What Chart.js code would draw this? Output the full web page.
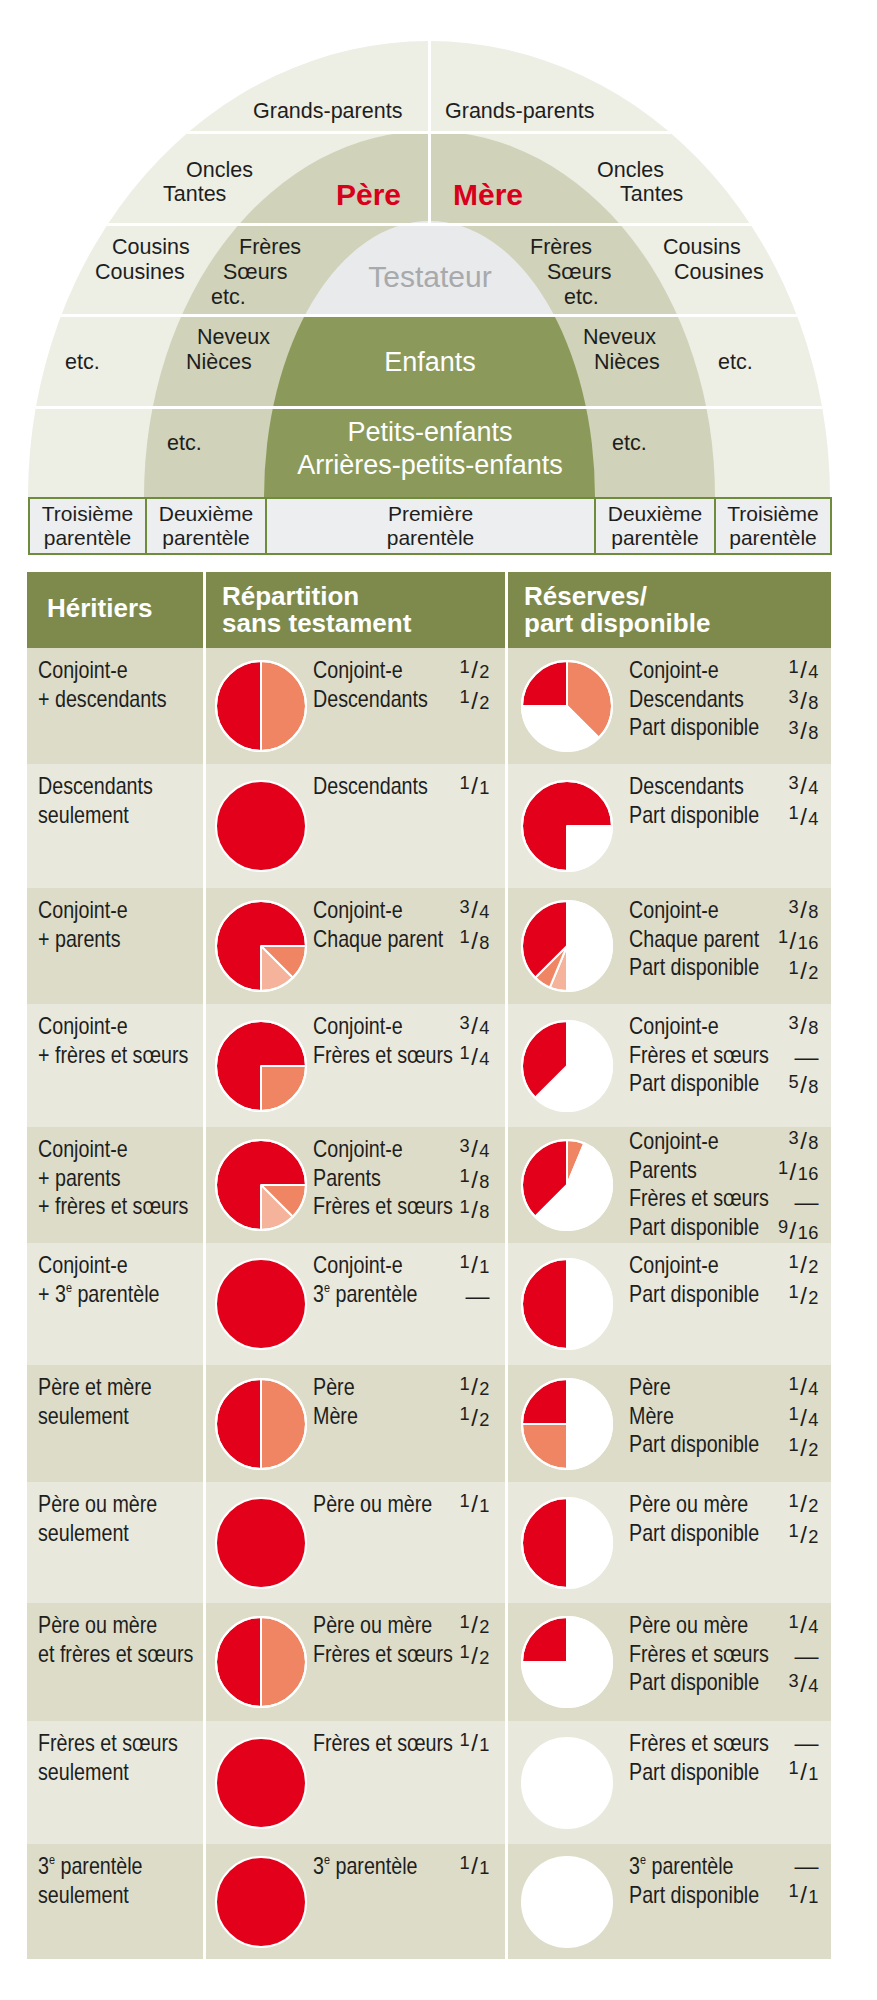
<!DOCTYPE html>
<html lang="fr">
<head>
<meta charset="UTF-8">
<title>Parentèles et réserves</title>
<script src="https://cdn.jsdelivr.net/npm/chart.js"></script>
<style>
    body {
        margin: 0;
        background: #ffffff;
    }
    #page {
        position: relative;
        width: 877px;
        height: 2000px;
        overflow: hidden;
        font-family: "Liberation Sans", Arial, sans-serif;
        color: #1e1e1e;
    }
    .abs { position: absolute; }
    .arch {
        position: absolute;
        border-radius: 50% 50% 0 0 / 100% 100% 0 0;
        overflow: hidden;
    }
    .wline { position: absolute; background: #ffffff; }
    .t {
        position: absolute;
        white-space: nowrap;
        font-size: 21.5px;
        line-height: 26px;
    }
    .c { text-align: center; width: 400px; }
    .box {
        position: absolute;
        box-sizing: border-box;
        border: 2px solid #6f8c3c;
        background: #eceeef;
        text-align: center;
        font-size: 21px;
        line-height: 24px;
        padding-top: 3px;
    }
    .hdr {
        position: absolute;
        color: #ffffff;
        font-weight: bold;
        font-size: 26px;
        line-height: 27px;
        white-space: nowrap;
    }
    /* no narrow face installed: squeeze the regular one */
    .cell {
        position: absolute;
        white-space: nowrap;
        font-size: 24px;
        line-height: 28.5px;
        transform: scaleX(0.82);
        transform-origin: left top;
    }
    .fr {
        position: absolute;
        white-space: nowrap;
        font-size: 24px;
        line-height: 28.5px;
        text-align: right;
        letter-spacing: 0.5px;
    }
    .num { font-size: 0.76em; position: relative; top: -0.3em; }
    .den { font-size: 0.76em; }
    .sl { font-weight: 300; margin: 0 1px; }
    sup { font-size: 0.55em; vertical-align: 0.75em; line-height: 0; }
    canvas { position: absolute; }
</style>
</head>
<body>
<div id="page"></div>
<script>
    // ----- data -----
    const heirs = [
        ['Conjoint-e', '+ descendants'],
        ['Descendants', 'seulement'],
        ['Conjoint-e', '+ parents'],
        ['Conjoint-e', '+ frères et sœurs'],
        ['Conjoint-e', '+ parents', '+ frères et sœurs'],
        ['Conjoint-e', '+ 3e parentèle'],
        ['Père et mère', 'seulement'],
        ['Père ou mère', 'seulement'],
        ['Père ou mère', 'et frères et sœurs'],
        ['Frères et sœurs', 'seulement'],
        ['3e parentèle', 'seulement']
    ];
    const intestateNames = [
        ['Conjoint-e', 'Descendants'],
        ['Descendants'],
        ['Conjoint-e', 'Chaque parent'],
        ['Conjoint-e', 'Frères et sœurs'],
        ['Conjoint-e', 'Parents', 'Frères et sœurs'],
        ['Conjoint-e', '3e parentèle'],
        ['Père', 'Mère'],
        ['Père ou mère'],
        ['Père ou mère', 'Frères et sœurs'],
        ['Frères et sœurs'],
        ['3e parentèle']
    ];
    const intestateFractions = [
        ['1/2', '1/2'], ['1/1'], ['3/4', '1/8'], ['3/4', '1/4'], ['3/4', '1/8', '1/8'],
        ['1/1', '—'], ['1/2', '1/2'], ['1/1'], ['1/2', '1/2'], ['1/1'], ['1/1']
    ];
    // pie slices (each parent gets its own slice)
    const intestateSlices = [
        [0.5, 0.5], [1], [0.75, 0.125, 0.125], [0.75, 0.25], [0.75, 0.125, 0.125],
        [1], [0.5, 0.5], [1], [0.5, 0.5], [1], [1]
    ];
    const reserveNames = [
        ['Conjoint-e', 'Descendants', 'Part disponible'],
        ['Descendants', 'Part disponible'],
        ['Conjoint-e', 'Chaque parent', 'Part disponible'],
        ['Conjoint-e', 'Frères et sœurs', 'Part disponible'],
        ['Conjoint-e', 'Parents', 'Frères et sœurs', 'Part disponible'],
        ['Conjoint-e', 'Part disponible'],
        ['Père', 'Mère', 'Part disponible'],
        ['Père ou mère', 'Part disponible'],
        ['Père ou mère', 'Frères et sœurs', 'Part disponible'],
        ['Frères et sœurs', 'Part disponible'],
        ['3e parentèle', 'Part disponible']
    ];
    const reserveFractions = [
        ['1/4', '3/8', '3/8'], ['3/4', '1/4'], ['3/8', '1/16', '1/2'], ['3/8', '—', '5/8'],
        ['3/8', '1/16', '—', '9/16'], ['1/2', '1/2'], ['1/4', '1/4', '1/2'], ['1/2', '1/2'],
        ['1/4', '—', '3/4'], ['—', '1/1'], ['—', '1/1']
    ];
    // last slice = part disponible (white)
    const reserveSlices = [
        [0.25, 0.375, 0.375], [0.75, 0.25], [0.375, 0.0625, 0.0625, 0.5], [0.375, 0.625],
        [0.375, 0.0625, 0.5625], [0.5, 0.5], [0.25, 0.25, 0.5], [0.5, 0.5], [0.25, 0.75], [1], [1]
    ];
    const headers = [['Héritiers'], ['Répartition', 'sans testament'], ['Réserves/', 'part disponible']];
    const parenteles = [['Troisième', 'parentèle'], ['Deuxième', 'parentèle'], ['Première', 'parentèle'],
        ['Deuxième', 'parentèle'], ['Troisième', 'parentèle']];

    // ----- layout -----
    const RED = '#e2001a', SALMON = '#ef8562', LIGHT = '#f5b39b', WHITE = '#ffffff';
    const rowTops = [648, 764, 888, 1004, 1127, 1243, 1365, 1482, 1603, 1721, 1844, 1959];
    const intestateStart = [180, 180, 180, 180, 180, 180, 180, 180, 180, 180, 180];
    const reserveStart = [270, 180, 0, 0, 225, 180, 0, 180, 270, 0, 0];
    const reserveCcw = [false, false, true, true, false, false, true, false, false, false, false];
    const boxEdges = [28, 145, 265, 594, 714, 830];

    const page = document.getElementById('page');
    function add(tag, cls, css, html) {
        const el = document.createElement(tag);
        if (cls) el.className = cls;
        Object.assign(el.style, css);
        if (html !== undefined) el.innerHTML = html;
        page.appendChild(el);
        return el;
    }
    const px = v => v + 'px';
    const fmt = s => s.replace(/\b3e\b/g, '3<sup>e</sup>');
    function frac(s) {
        if (!s.includes('/')) return s;
        const [n, d] = s.split('/');
        return '<span class="num">' + n + '</span><span class="sl">/</span><span class="den">' + d + '</span>';
    }

    // ----- arch -----
    const outer = add('div', 'arch', {left: '28px', top: '41px', width: '802px', height: '456px', background: '#edeee4'});
    function inOuter(cls, css) {
        const el = document.createElement('div');
        el.className = cls;
        Object.assign(el.style, css);
        outer.appendChild(el);
    }
    inOuter('arch', {left: '116px', top: '90px', width: '571px', height: '366px', background: '#d0d2b9'});
    inOuter('arch', {left: '236px', top: '180px', width: '331px', height: '276px',
        background: 'linear-gradient(#e9eaeb 0, #e9eaeb 94px, #8b9a5a 94px)'});
    [132, 224, 315, 407].forEach(y => inOuter('wline', {left: 0, top: px(y - 41 - 1.5), width: '100%', height: '3px'}));
    inOuter('wline', {left: px(429 - 28 - 1.5), top: 0, width: '3px', height: px(224 - 41)});

    const archText = [
        ['Grands-parents', 253, 111], ['Grands-parents', 445, 111],
        ['Oncles', 186, 170], ['Tantes', 163, 194], ['Oncles', 597, 170], ['Tantes', 620, 194],
        ['Cousins', 112, 247], ['Cousines', 95, 272], ['Cousins', 663, 247], ['Cousines', 674, 272],
        ['Frères', 239, 247], ['Sœurs', 223, 272], ['etc.', 211, 297],
        ['Frères', 530, 247], ['Sœurs', 547, 272], ['etc.', 564, 297],
        ['etc.', 65, 362], ['etc.', 718, 362],
        ['Neveux', 197, 337], ['Nièces', 186, 362], ['Neveux', 583, 337], ['Nièces', 594, 362],
        ['etc.', 167, 443], ['etc.', 612, 443]
    ];
    archText.forEach(([s, x, y]) => add('div', 't', {left: px(x), top: px(y - 13)}, s));
    add('div', 't', {left: '336px', top: px(195 - 18), fontSize: '30px', lineHeight: '36px', fontWeight: 'bold', color: '#d9001b'}, 'Père');
    add('div', 't', {left: '453px', top: px(195 - 18), fontSize: '30px', lineHeight: '36px', fontWeight: 'bold', color: '#d9001b'}, 'Mère');
    add('div', 't c', {left: px(430 - 200), top: px(277 - 18), fontSize: '30px', lineHeight: '36px', color: '#a7a9ac'}, 'Testateur');
    add('div', 't c', {left: px(430 - 200), top: px(362 - 17), fontSize: '27px', lineHeight: '34px', color: '#ffffff'}, 'Enfants');
    add('div', 't c', {left: px(430 - 200), top: px(433 - 17), fontSize: '27px', lineHeight: '33px', color: '#ffffff'},
        'Petits-enfants<br>Arrières-petits-enfants');

    parenteles.forEach((p, i) => {
        add('div', 'box', {left: px(boxEdges[i]), top: '497px', width: px(boxEdges[i + 1] - boxEdges[i] + 2), height: '58px'},
            p.join('<br>'));
    });

    // ----- table -----
    const colX = [27, 206, 508, 831];
    add('div', 'abs', {left: '27px', top: '572px', width: '804px', height: '76px', background: '#7e8a4b'});
    headers.forEach((h, i) => {
        const top = h.length === 1 ? 608 - 13.5 : 582.5;
        add('div', 'hdr', {left: px(colX[i] + (i === 0 ? 20 : 16)), top: px(top)}, h.join('<br>'));
    });
    for (let r = 0; r < heirs.length; r++) {
        const top = rowTops[r], h = rowTops[r + 1] - top;
        add('div', 'abs', {left: '27px', top: px(top), width: '804px', height: px(h),
            background: r % 2 === 0 ? '#dcdcc8' : '#e8e8dc'});
    }
    [203, 505].forEach(x => add('div', 'abs', {left: px(x), top: '572px', width: '3px', height: px(1959 - 572), background: '#ffffff'}));

    // white rim round every pie (a lone 100 % slice would otherwise show a radial seam)
    const rimPlugin = {
        id: 'rim',
        afterDatasetsDraw(chart) {
            const arc = chart.getDatasetMeta(0).data[0];
            if (!arc) return;
            const {x, y, outerRadius} = arc.getProps(['x', 'y', 'outerRadius'], true);
            const ctx = chart.ctx;
            ctx.save();
            ctx.beginPath();
            ctx.arc(x, y, outerRadius, 0, Math.PI * 2);
            ctx.strokeStyle = '#ffffff';
            ctx.lineWidth = 2;
            ctx.stroke();
            ctx.restore();
        }
    };

    function makePie(cx, cy, values, colors, rotation) {
        const size = 92;
        const c = document.createElement('canvas');
        c.width = size; c.height = size;
        c.style.left = px(cx - size / 2); c.style.top = px(cy - size / 2);
        c.style.width = px(size); c.style.height = px(size);
        page.appendChild(c);
        new Chart(c, {
            type: 'pie',
            data: {
                labels: values.map((v, i) => 'part ' + (i + 1)),
                datasets: [{
                    data: values,
                    backgroundColor: colors,
                    borderColor: values.length > 1 ? '#ffffff' : 'rgba(0,0,0,0)',
                    borderWidth: 2
                }]
            },
            options: {
                responsive: false,
                animation: false,
                events: [],
                rotation: rotation,
                layout: {padding: 0},
                plugins: {legend: {display: false}, tooltip: {enabled: false}}
            },
            plugins: [rimPlugin]
        });
    }

    for (let r = 0; r < heirs.length; r++) {
        const top = rowTops[r], mid = (rowTops[r] + rowTops[r + 1]) / 2;
        const pad = 8;
        add('div', 'cell', {left: '38px', top: px(top + pad)}, heirs[r].map(fmt).join('<br>'));

        add('div', 'cell', {left: '313px', top: px(top + pad)}, intestateNames[r].map(fmt).join('<br>'));
        add('div', 'fr', {right: px(877 - 490), top: px(top + pad)}, intestateFractions[r].map(frac).join('<br>'));
        const rpad = reserveNames[r].length > 3 ? 0 : pad;
        add('div', 'cell', {left: '629px', top: px(top + rpad)}, reserveNames[r].map(fmt).join('<br>'));
        add('div', 'fr', {right: px(877 - 819), top: px(top + rpad)}, reserveFractions[r].map(frac).join('<br>'));

        const iv = intestateSlices[r];
        makePie(260.5, mid, iv, iv.map((v, i) => [RED, SALMON, LIGHT][i]), intestateStart[r]);

        let rv = reserveSlices[r].slice();
        let rc = rv.map((v, i) => i === rv.length - 1 ? WHITE : [RED, SALMON, LIGHT][i]);
        if (reserveCcw[r]) { rv = rv.reverse(); rc = rc.reverse(); }
        makePie(567, mid, rv, rc, reserveStart[r]);
    }
</script>
</body>
</html>
